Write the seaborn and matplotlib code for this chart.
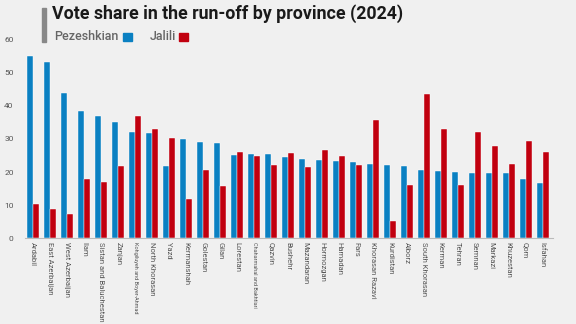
import matplotlib
matplotlib.use("Agg")
import matplotlib.pyplot as plt
import seaborn as sns
import pandas as pd
from matplotlib.patches import Rectangle

provinces = ["Ardabil", "East Azerbaijan", "West Azerbaijan", "Ilam", "Sistan and Baluchestan",
             "Zanjan", "Kohgiluyeh and Boyer-Ahmad", "North Khorasan", "Yazd", "Kermanshah",
             "Golestan", "Gilan", "Lorestan", "Chaharmahal and Bakhtiari", "Qazvin", "Bushehr",
             "Mazandaran", "Hormozgan", "Hamadan", "Fars", "Khorasan Razavi", "Kurdistan",
             "Alborz", "South Khorasan", "Kerman", "Tehran", "Semnan", "Markazi", "Khuzestan",
             "Qom", "Isfahan"]
pezeshkian = [55.2, 53.3, 44.0, 38.5, 37.0, 35.2, 32.1, 31.8, 21.7, 29.9,
              29.1, 28.8, 25.3, 25.5, 25.5, 24.7, 23.8, 23.6, 23.2, 22.9, 22.4, 22.0,
              21.8, 20.7, 20.3, 20.0, 19.6, 19.6, 19.6, 17.8, 16.8]
jalili = [10.3, 8.8, 7.3, 17.9, 17.0, 21.9, 37.0, 33.1, 30.4, 11.9,
          20.5, 15.9, 26.1, 24.9, 22.0, 25.8, 21.4, 26.8, 24.9, 22.0, 35.8, 5.3,
          16.2, 43.6, 33.0, 16.2, 32.1, 27.8, 22.4, 29.4, 26.2]
candidates = ["Pezeshkian", "Jalili"]
colors = ["#0a80c2", "#c1000f"]
yticks = [0, 10, 20, 30, 40, 50, 60]

df = pd.DataFrame({
    "province": provinces * 2,
    "share": pezeshkian + jalili,
    "candidate": [candidates[0]] * len(provinces) + [candidates[1]] * len(provinces),
})

bg = "#f0f0f0"
sns.set_theme(style="white")
plt.rcParams["font.family"] = ["Roboto", "DejaVu Sans"]

fig = plt.figure(figsize=(5.76, 3.24), dpi=100, facecolor=bg)
ax = fig.add_axes([0.043, 0.265, 0.917, 0.612])
ax.set_facecolor(bg)

sns.barplot(data=df, x="province", y="share", hue="candidate", hue_order=candidates,
            palette=colors, width=0.72, saturation=1, ax=ax, legend=False,
            edgecolor="white", linewidth=0.3)

ax.set_ylim(0, 60)
ax.set_xlim(-0.5, len(provinces) - 0.4)
ax.set_yticks(yticks)
ax.set_yticklabels([str(v) for v in yticks], fontsize=6, color="#555555")
ax.set_xlabel("")
ax.set_ylabel("")
for s in ["top", "right", "left"]:
    ax.spines[s].set_visible(False)
ax.spines["bottom"].set_color("#bbbbbb")
ax.spines["bottom"].set_linewidth(0.8)
ax.tick_params(axis="y", length=0, pad=8)
ax.tick_params(axis="x", length=0, pad=3)

ax.set_xticks(range(len(provinces)))
labels = ax.set_xticklabels(provinces, rotation=-90, color="#555555", fontsize=5.5)
for lab in labels:
    if len(lab.get_text()) > 22:
        lab.set_fontsize(4.0)

# title block
fig.patches.append(Rectangle((42 / 576, 1 - 42 / 324), 4 / 576, 34 / 324,
                             transform=fig.transFigure, color="#888888", zorder=5))
fig.text(52 / 576, 1 - 13.5 / 324, "Vote share in the run-off by province (2024)",
         fontsize=12.8, fontweight="bold", color="#1a1a1a", va="center", ha="left")
fig.text(54 / 576, 1 - 36.5 / 324, "Pezeshkian", fontsize=9, color="#666666",
         va="center", ha="left", fontweight="medium")
fig.patches.append(Rectangle((123 / 576, 1 - 41 / 324), 8.5 / 576, 8.5 / 324,
                             transform=fig.transFigure, color=colors[0]))
fig.text(150 / 576, 1 - 36.5 / 324, "Jalili", fontsize=9, color="#666666",
         va="center", ha="left", fontweight="medium")
fig.patches.append(Rectangle((179 / 576, 1 - 41 / 324), 8.5 / 576, 8.5 / 324,
                             transform=fig.transFigure, color=colors[1]))

fig.savefig("out.png", dpi=100, facecolor=bg)
